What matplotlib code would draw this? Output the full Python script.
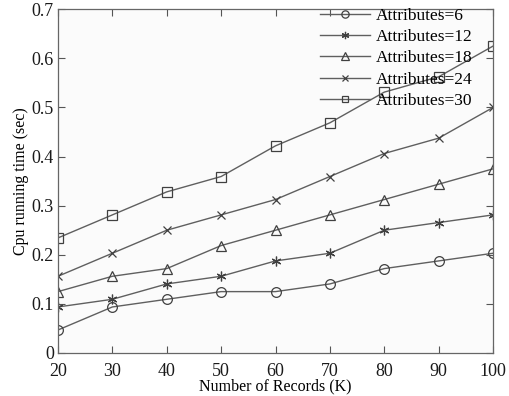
import matplotlib
matplotlib.use("Agg")
import matplotlib.pyplot as plt

records = [20, 30, 40, 50, 60, 70, 80, 90, 100]
attr_6 = [0.046875, 0.09375, 0.109375, 0.125, 0.125, 0.140625, 0.171875, 0.1875, 0.203125]
attr_12 = [0.09375, 0.109375, 0.140625, 0.15625, 0.1875, 0.203125, 0.25, 0.265625, 0.28125]
attr_18 = [0.125, 0.15625, 0.171875, 0.21875, 0.25, 0.28125, 0.3125, 0.34375, 0.375]
attr_24 = [0.15625, 0.203125, 0.25, 0.28125, 0.3125, 0.359375, 0.40625, 0.4375, 0.5]
attr_30 = [0.234375, 0.28125, 0.328125, 0.359375, 0.421875, 0.46875, 0.53125, 0.5625, 0.625]
labels = ["Attributes=6", "Attributes=12", "Attributes=18", "Attributes=24", "Attributes=30"]
markers = ["o", (6, 2, 0), "^", "x", "s"]
sizes = [7, 7, 7, 5.5, 6.5]

plt.rcParams["font.family"] = ["Liberation Serif", "DejaVu Serif"]
plt.rcParams["font.size"] = 11

line_color = "#5f5f5f"
fig = plt.figure(figsize=(5.1, 3.96), dpi=100)
fig.patch.set_facecolor("white")
ax = fig.add_axes([0.1137, 0.1086, 0.853, 0.868])
ax.set_facecolor("#fbfbfb")

for series, label, mk, ms in zip([attr_6, attr_12, attr_18, attr_24, attr_30], labels, markers, sizes):
    ax.plot(records, series, color=line_color, linewidth=1.0, marker=mk,
            markersize=ms, markerfacecolor="none",
            markeredgecolor="#404040", markeredgewidth=0.9, label=label)

ax.set_xlim(20, 100)
ax.set_ylim(0, 0.7)
ax.set_xticks(records)
ax.set_yticks([0, 0.1, 0.2, 0.3, 0.4, 0.5, 0.6, 0.7])
ax.set_yticklabels(["0", "0.1", "0.2", "0.3", "0.4", "0.5", "0.6", "0.7"])
ax.tick_params(direction="in", top=True, right=True, length=5, width=0.8,
               colors="#555555", labelcolor="#1a1a1a", labelsize=13)
ax.tick_params(axis="x", pad=7)
ax.tick_params(axis="y", pad=3)
for sp in ax.spines.values():
    sp.set_color("#666666")
    sp.set_linewidth(0.9)

ax.set_xlabel("Number of Records (K)", fontsize=11.5, labelpad=-1)
ax.set_ylabel("Cpu running time (sec)", fontsize=11.5, labelpad=2)

leg = ax.legend(loc="upper right", frameon=False, fontsize=12.5, handlelength=2.9,
                labelspacing=0.3, borderaxespad=0.0, handletextpad=0.35,
                markerscale=0.75, bbox_to_anchor=(0.97, 1.025))

fig.savefig("out.png", dpi=100)
